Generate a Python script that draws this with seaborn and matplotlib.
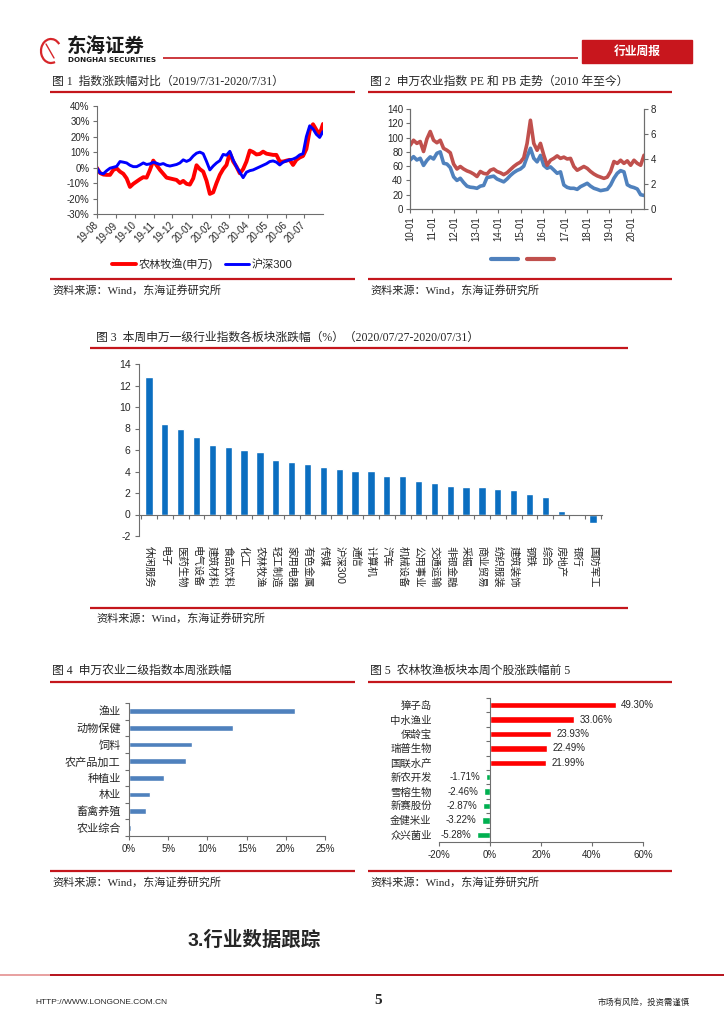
import numpy as np
import pandas as pd
import matplotlib
matplotlib.use('Agg')
import matplotlib.pyplot as plt
import matplotlib.dates as mdates
from matplotlib.ticker import FuncFormatter
from matplotlib.patches import Rectangle, Arc
from matplotlib.lines import Line2D
import seaborn as sns

# ---------------- data ----------------
# Fig 1: index change since 2019/7/31 (%)
c1_start, c1_end = '2019-08-01', '2020-07-31'
c1_agri = [0.0, -3.5, -4.5, -4.7, -4.7, -1.5, -0.5, -2.6, -4.0, -7.0,
           -12.5, -10.5, -9.0, -7.5, -6.2, -6.5, -1.5, 4.5, 1.5, -1.5,
           -4.0, -6.5, -7.0, -7.5, -8.0, -10.0, -8.6, -10.5, -11.0, -7.0,
           1.5, -1.0, -2.6, -8.5, -17.0, -16.0, -10.0, -4.7, -1.0, 1.7,
           9.5, 4.0, 0.6, -3.7, -1.0, 3.9, 11.0, 10.0, 8.5, 8.8,
           10.3, 9.0, 8.6, 8.2, 8.2, 3.9, 3.9, 4.5, 5.0, 1.7,
           5.0, 6.5, 7.5, 12.0, 24.0, 28.0, 24.4, 21.5, 28.2]
c1_hs300 = [0.0, -3.5, -4.0, -2.0, -0.4, 0.2, 0.8, 3.9, 3.5, 3.0,
            1.5, 0.6, 0.6, 1.7, 3.0, 2.0, 2.4, 3.5, 2.8, 2.0,
            2.6, 1.5, 1.0, 1.5, 2.0, 3.0, 5.0, 4.0, 5.0, 7.5,
            9.3, 10.0, 9.0, 4.0, -1.5, 1.0, 3.0, 4.5, 8.5, 8.0,
            10.5, 5.0, 0.5, -3.0, -6.5, -3.0, -2.0, -1.5, -0.5, 0.5,
            1.5, 2.5, 3.9, 4.3, 3.5, 1.7, 3.5, 4.3, 5.0, 5.5,
            6.5, 8.2, 9.0, 20.0, 27.0, 25.0, 21.5, 19.5, 23.3]
c1_labels = ['农林牧渔(申万)', '沪深300']
c1_yticks = [-30, -20, -10, 0, 10, 20, 30, 40]

# Fig 2: PE (left axis) and PB (right axis) since 2010
c2_start, c2_end = '2010-01-04', '2020-07-31'
c2_pe = [68.6, 73.3, 68.6, 71, 61, 68, 73, 70, 78, 80,
         64, 63, 58, 45, 40, 43, 37, 32, 30.5, 30,
         29, 32, 33, 44, 45, 46, 42, 40, 38, 42,
         47, 51, 54, 56, 60, 73, 85, 71, 66, 75,
         61, 57, 59, 54.6, 50, 52, 33.6, 30.3, 29, 29,
         27.5, 31.3, 33.6, 36, 32, 29, 27.5, 25.7, 26.6, 27.5,
         33.6, 43, 50, 53.7, 52, 34, 31.3, 30, 28, 20, 19]
c2_pb = [5.1, 5.5, 5.25, 5.4, 4.6, 5.6, 6.2, 5.5, 5.3, 5.5,
         4.85, 4.7, 4.5, 3.6, 3.2, 3.4, 3.2, 3.05, 2.95, 2.8,
         2.6, 3.0, 2.85, 2.8, 3.1, 3.2, 3.0, 2.9, 2.75, 2.9,
         3.15, 3.4, 3.6, 3.75, 4.1, 5.25, 7.1, 5.25, 4.7, 5.25,
         4.3, 3.5, 3.9, 4.05, 4.25, 4.05, 4.15, 4.0, 4.05, 3.4,
         3.1, 3.25, 3.4, 3.25, 3.0, 2.8, 2.65, 2.55, 2.45, 2.55,
         3.0, 3.8, 3.65, 3.9, 3.65, 3.85, 3.5, 3.9, 3.65, 3.5, 4.3]
c2_left_ticks = [0, 20, 40, 60, 80, 100, 120, 140]
c2_right_ticks = [0, 2, 4, 6, 8]

# Fig 3: SW level-1 industries weekly change (%)
c3_names = ['休闲服务', '电子', '医药生物', '电气设备', '建筑材料', '食品饮料', '化工',
            '农林牧渔', '轻工制造', '家用电器', '有色金属', '传媒', '沪深300', '通信',
            '计算机', '汽车', '机械设备', '公用事业', '交通运输', '非银金融', '采掘',
            '商业贸易', '纺织服装', '建筑装饰', '钢铁', '综合', '房地产', '银行', '国防军工']
c3_vals = [12.76, 8.40, 8.00, 7.22, 6.47, 6.28, 6.04, 5.79, 5.10, 4.92, 4.67, 4.42,
           4.26, 4.08, 4.08, 3.58, 3.58, 3.14, 2.89, 2.64, 2.55, 2.55, 2.36, 2.24,
           1.87, 1.62, 0.37, 0.09, -0.75]
c3_yticks = [-2, 0, 2, 4, 6, 8, 10, 12, 14]

# Fig 4: SW agriculture level-2 weekly change (%)
c4_names = ['渔业', '动物保健', '饲料', '农产品加工', '种植业', '林业', '畜禽养殖', '农业综合']
c4_vals = [21.2, 13.3, 8.0, 7.3, 4.5, 2.7, 2.2, 0.3]
c4_xticks = [0, 5, 10, 15, 20, 25]

# Fig 5: top / bottom 5 stocks (%)
c5_names = ['獐子岛', '中水渔业', '保龄宝', '瑞普生物', '国联水产',
            '新农开发', '雪榕生物', '新赛股份', '金健米业', '众兴菌业']
c5_vals = [49.30, 33.06, 23.93, 22.49, 21.99, -1.71, -2.46, -2.87, -3.22, -5.28]
c5_xticks = [-20, 0, 20, 40, 60]

# ---------------- style ----------------
sns.set_theme(style='white')
SANS = ['Liberation Sans', 'Noto Sans CJK SC']
SERIF = ['Liberation Serif', 'Noto Sans CJK SC']
CJK = ['Noto Sans CJK SC', 'DejaVu Sans']
plt.rcParams['font.family'] = SANS
plt.rcParams['axes.unicode_minus'] = False

RED = '#C4161C'
AX_C = '#6E6E6E'
W, H = 724, 1024

fig = plt.figure(figsize=(W / 100, H / 100), dpi=100)
fig.patch.set_facecolor('white')
ov = fig.add_axes([0, 0, 1, 1], zorder=-1)
ov.set_xlim(0, W)
ov.set_ylim(H, 0)
ov.axis('off')


def axes_px(x0, y0, x1, y1):
    a = fig.add_axes([x0 / W, 1 - y1 / H, (x1 - x0) / W, (y1 - y0) / H])
    a.set_facecolor('none')
    return a


def rule(x0, x1, y, lw=1.6, color=RED):
    ov.plot([x0, x1], [y, y], color=color, lw=lw, solid_capstyle='butt')


def style_spines(a, keep=('left', 'bottom')):
    for s in ['left', 'right', 'top', 'bottom']:
        a.spines[s].set_visible(s in keep)
        a.spines[s].set_color(AX_C)
        a.spines[s].set_linewidth(0.8)


pct = FuncFormatter(lambda v, p: f'{v:.0f}%')

# ---------------- header ----------------
ov.add_patch(Arc((51, 51), 20, 24, theta1=70, theta2=320, color='#D7262A', lw=1.6))
ov.plot([46, 54], [44, 58], color='#D7262A', lw=1.0)
ov.text(67, 47, '东海证券', fontsize=14, fontweight='bold', family=CJK,
        va='center', ha='left', color='#1A1A1A')
ov.text(68, 60.5, 'DONGHAI SECURITIES', fontsize=5.2, fontweight='bold',
        family=['DejaVu Sans'], va='center', ha='left', color='#1A1A1A')
rule(163, 578, 58, lw=1.2)
ov.add_patch(Rectangle((582, 40), 110, 23, color='#C8161D'))
ov.text(637, 51.5, '行业周报', fontsize=8.5, fontweight='bold', family=CJK,
        color='white', ha='center', va='center')

# ---------------- titles / sources / rules ----------------
ov.text(52, 82, '图 1  指数涨跌幅对比（2019/7/31-2020/7/31）', fontsize=8.5,
        family=SERIF, va='center', ha='left')
ov.text(370, 82, '图 2  申万农业指数 PE 和 PB 走势（2010 年至今）', fontsize=8.5,
        family=SERIF, va='center', ha='left')
rule(50, 355, 92)
rule(368, 672, 92)
rule(50, 355, 279)
rule(368, 672, 279)
ov.text(52, 290, '资料来源：Wind，东海证券研究所', fontsize=8, family=SERIF, va='center')
ov.text(370, 290, '资料来源：Wind，东海证券研究所', fontsize=8, family=SERIF, va='center')

ov.text(96, 338, '图 3  本周申万一级行业指数各板块涨跌幅（%）（2020/07/27-2020/07/31）',
        fontsize=8.5, family=SERIF, va='center', ha='left')
rule(90, 628, 348)
rule(90, 628, 608)
ov.text(96, 618, '资料来源：Wind，东海证券研究所', fontsize=8, family=SERIF, va='center')

ov.text(52, 671, '图 4  申万农业二级指数本周涨跌幅', fontsize=8.5, family=SERIF,
        va='center', ha='left')
ov.text(370, 671, '图 5  农林牧渔板块本周个股涨跌幅前 5', fontsize=8.5, family=SERIF,
        va='center', ha='left')
rule(50, 355, 682)
rule(368, 672, 682)
rule(50, 355, 871)
rule(368, 672, 871)
ov.text(52, 882, '资料来源：Wind，东海证券研究所', fontsize=8, family=SERIF, va='center')
ov.text(370, 882, '资料来源：Wind，东海证券研究所', fontsize=8, family=SERIF, va='center')

ov.text(188, 940, '3.行业数据跟踪', fontsize=14, fontweight='bold',
        family=['Liberation Sans', 'Noto Sans CJK SC'], va='center', ha='left')

# ---------------- footer ----------------
rule(0, 50, 975, lw=1.4, color='#E8A0A0')
rule(50, 724, 975, lw=1.4, color='#B5121B')
ov.text(35, 1002, 'HTTP://WWW.LONGONE.COM.CN', fontsize=6, va='center', ha='left')
ov.text(378, 1000, '5', fontsize=11, fontweight='bold', family=['Liberation Serif'],
        va='center', ha='center')
ov.text(690, 1002, '市场有风险，投资需谨慎', fontsize=6, family=CJK, va='center', ha='right')

# ---------------- Fig 1 ----------------
d1 = pd.DataFrame({'date': pd.date_range(c1_start, c1_end, periods=len(c1_agri)),
                   'agri': c1_agri, 'hs300': c1_hs300})
ax1 = axes_px(96.7, 105.7, 323, 214)
sns.lineplot(data=d1, x='date', y='agri', ax=ax1, color='#FF0000', lw=2.8, label=c1_labels[0])
sns.lineplot(data=d1, x='date', y='hs300', ax=ax1, color='#0000FF', lw=2.1, label=c1_labels[1])
ax1.set_xlim(pd.Timestamp(c1_start), pd.Timestamp(c1_end))
ax1.set_ylim(-30, 40)
ax1.set_yticks(c1_yticks)
ax1.yaxis.set_major_formatter(pct)
ax1.xaxis.set_major_locator(mdates.MonthLocator())
ax1.xaxis.set_major_formatter(mdates.DateFormatter('%y-%m'))
style_spines(ax1)
ax1.tick_params(axis='both', which='major', length=3, width=0.8, color=AX_C,
                direction='out', labelsize=7, pad=2, left=True, bottom=True)
for t in ax1.get_xticklabels():
    t.set_rotation(45)
    t.set_ha('right')
    t.set_va('center')
    t.set_rotation_mode('anchor')
ax1.tick_params(axis='x', pad=4)
ax1.set_xlabel('')
ax1.set_ylabel('')
ax1.legend(loc='center', bbox_to_anchor=(0.4675, -0.46), ncol=2, frameon=False,
           fontsize=8, handlelength=2.1, handletextpad=0.3, columnspacing=1.1)

# ---------------- Fig 2 ----------------
d2 = pd.DataFrame({'date': pd.date_range(c2_start, c2_end, periods=len(c2_pe)),
                   'pe': c2_pe, 'pb': c2_pb})
PE_C, PB_C = '#4F81BD', '#C0504D'
ax2 = axes_px(410, 109, 644, 209)
sns.lineplot(data=d2, x='date', y='pe', ax=ax2, color=PE_C, lw=2.6, legend=False)
ax2r = ax2.twinx()
ax2r.set_facecolor('none')
sns.lineplot(data=d2, x='date', y='pb', ax=ax2r, color=PB_C, lw=2.6, legend=False)
ax2.set_xlim(pd.Timestamp('2010-01-01'), pd.Timestamp(c2_end))
ax2.set_ylim(0, 140)
ax2r.set_ylim(0, 8)
ax2.set_yticks(c2_left_ticks)
ax2r.set_yticks(c2_right_ticks)
ax2.xaxis.set_major_locator(mdates.YearLocator(month=1, day=1))
ax2.xaxis.set_major_formatter(mdates.DateFormatter('%y-%m'))
style_spines(ax2, keep=('left', 'bottom', 'right'))
style_spines(ax2r, keep=('left', 'bottom', 'right'))
ax2.tick_params(axis='both', length=3, width=0.8, color=AX_C, direction='out',
                labelsize=7, pad=2, left=True, bottom=True)
ax2r.tick_params(axis='y', length=3, width=0.8, color=AX_C, direction='out',
                 labelsize=7, pad=2, right=True)
for t in ax2.get_xticklabels():
    t.set_rotation(90)
    t.set_ha('center')
    t.set_va('top')
for a in (ax2, ax2r):
    a.set_xlabel('')
    a.set_ylabel('')
ax2.legend([Line2D([], [], color=PE_C, lw=3), Line2D([], [], color=PB_C, lw=3)], ['', ''],
           loc='center', bbox_to_anchor=(0.481, -0.51), ncol=2, frameon=False,
           fontsize=8, handlelength=2.4, handletextpad=0.0, columnspacing=0.8)

# ---------------- Fig 3 ----------------
ax3 = axes_px(139, 364, 602, 536)
sns.barplot(x=c3_names, y=c3_vals, ax=ax3, color='#0B6EC0', saturation=1, width=0.46)
ax3.set_xlim(-0.63, len(c3_names) - 0.43)
ax3.set_ylim(-2, 14)
ax3.set_yticks(c3_yticks)
style_spines(ax3)
ax3.spines['bottom'].set_position(('data', 0))
ax3.set_xticks(range(len(c3_names)))
ax3.set_xticklabels(c3_names, rotation=-90, ha='center', va='top', fontsize=7.5)
ax3.set_xticks(np.arange(-0.5, len(c3_names), 1), minor=True)
ax3.tick_params(axis='x', which='major', length=0, pad=23)
ax3.tick_params(axis='x', which='minor', length=3, width=0.8, color=AX_C,
                direction='out', bottom=True)
ax3.tick_params(axis='y', length=3, width=0.8, color=AX_C, direction='out',
                labelsize=7.5, pad=3, left=True)
ax3.set_xlabel('')
ax3.set_ylabel('')

# ---------------- Fig 4 ----------------
ax4 = axes_px(129, 703, 325, 836)
sns.barplot(x=c4_vals, y=c4_names, orient='h', ax=ax4, color='#4F81BD',
            saturation=1, width=0.34)
ax4.set_xlim(0, 25)
ax4.set_ylim(len(c4_names) - 0.5, -0.5)
ax4.set_xticks(c4_xticks)
ax4.xaxis.set_major_formatter(pct)
style_spines(ax4)
ax4.set_yticks(np.arange(-0.5, len(c4_names), 1), minor=True)
ax4.tick_params(axis='y', which='major', length=0, pad=6, labelsize=8)
ax4.tick_params(axis='y', which='minor', length=3, width=0.8, color=AX_C,
                direction='out', left=True)
ax4.tick_params(axis='x', length=3, width=0.8, color=AX_C, direction='out',
                labelsize=7, pad=3, bottom=True)
ax4.set_xlabel('')
ax4.set_ylabel('')

# ---------------- Fig 5 ----------------
df5 = pd.DataFrame({'name': c5_names, 'chg': c5_vals})
df5['dir'] = np.where(df5['chg'] >= 0, 'up', 'down')
ax5 = axes_px(439, 698, 643, 842)
sns.barplot(data=df5, x='chg', y='name', hue='dir', orient='h',
            palette={'up': '#FF0000', 'down': '#00B050'}, dodge=False, legend=False,
            width=0.45, saturation=1, ax=ax5)
ax5.set_xlim(-20, 60)
ax5.set_ylim(len(c5_names) - 0.5, -0.5)
ax5.set_xticks(c5_xticks)
ax5.xaxis.set_major_formatter(pct)
style_spines(ax5)
ax5.spines['left'].set_position(('data', 0))
ax5.set_yticks(np.arange(-0.5, len(c5_names), 1), minor=True)
ax5.tick_params(axis='y', which='major', length=0, pad=42, labelsize=7.5)
ax5.tick_params(axis='y', which='minor', length=3, width=0.8, color=AX_C,
                direction='out', left=True)
ax5.tick_params(axis='x', length=3, width=0.8, color=AX_C, direction='out',
                labelsize=7, pad=3, bottom=True)
for i, v in enumerate(c5_vals):
    ax5.annotate(f'{v:.2f}%', (v, i), xytext=(4 if v > 0 else -4, 0),
                 textcoords='offset points', ha='left' if v > 0 else 'right',
                 va='center', fontsize=7)
ax5.set_xlabel('')
ax5.set_ylabel('')

fig.savefig('out.png', dpi=100, facecolor='white')
